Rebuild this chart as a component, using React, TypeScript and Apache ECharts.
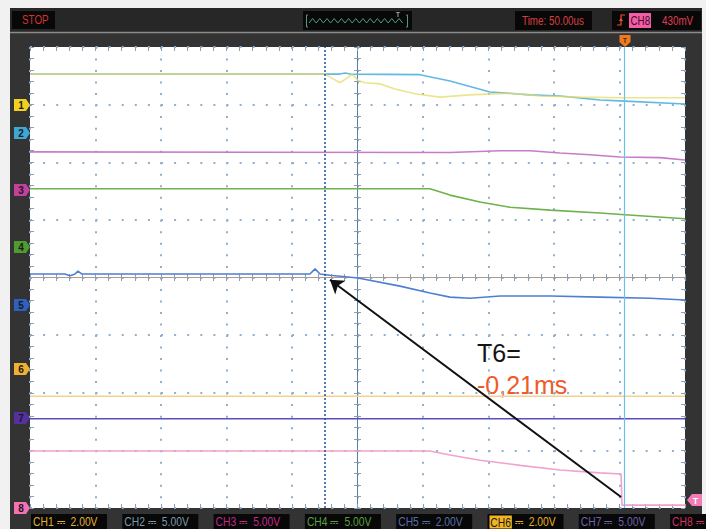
import React, { useEffect, useRef } from "react";
import * as echarts from "echarts";

// Horizontal: time in µs (50 µs / div), vertical: level in screen divisions
const timeMin = -250;
const timeMax = 250;
const timeStep = 50;
const levelMin = -4;
const levelMax = 4;

const ch1: [number, number][] = [
  [-250, 3.53], [-24.8, 3.53], [-19.5, 3.46], [-13.4, 3.38], [-8.0, 3.46], [-4.2, 3.53],
  [0.4, 3.42], [5.7, 3.38], [17.2, 3.36], [28.6, 3.27], [43.9, 3.19], [63.0, 3.13],
  [85.9, 3.17], [116.4, 3.2], [139.3, 3.15], [169.8, 3.13], [204.2, 3.12], [250, 3.12],
];
const ch2: [number, number][] = [
  [-250, 3.53], [-13.4, 3.53], [-9.5, 3.55], [-5.7, 3.53], [47.7, 3.52], [70.6, 3.41],
  [101.1, 3.22], [131.7, 3.17], [154.6, 3.15], [185.1, 3.08], [204.2, 3.06], [250, 3.01],
];
const ch3: [number, number][] = [
  [-250, 2.18], [70.6, 2.17], [108.8, 2.2], [131.7, 2.2], [154.6, 2.16], [177.5, 2.13],
  [200.4, 2.09], [230.9, 2.08], [250, 2.04],
];
const ch4: [number, number][] = [
  [-250, 1.54], [55.3, 1.54], [70.6, 1.43], [93.5, 1.31], [116.4, 1.22], [147.0, 1.17],
  [185.1, 1.12], [204.2, 1.09], [250, 1.02],
];
const ch5: [number, number][] = [
  [-250, 0.06], [-223.3, 0.06], [-219.5, 0.03], [-215.6, 0.06], [-213.4, 0.11], [-210.3, 0.06],
  [-36.3, 0.06], [-32.4, 0.15], [-28.6, 0.06], [-21.0, 0.04], [0.4, -0.01], [32.4, -0.15],
  [55.3, -0.27], [70.6, -0.34], [85.9, -0.36], [108.8, -0.32], [147.0, -0.32], [185.1, -0.34],
  [223.3, -0.36], [250, -0.39],
];
const ch6: [number, number][] = [[-250, -2.06], [250, -2.06]];
const ch7: [number, number][] = [[-250, -2.45], [250, -2.45]];
const ch8: [number, number][] = [
  [-250, -3.01], [55.3, -3.01], [70.6, -3.08], [93.5, -3.17], [124.1, -3.26], [154.6, -3.34],
  [185.1, -3.39], [201.2, -3.41], [201.9, -3.95], [250, -3.95],
];

const cursorTimes = [-25, 204];
const arrowFrom: [number, number] = [201.2, -3.81];
const arrowTo: [number, number] = [-21.0, -0.04];

const channelNames = ["CH1", "CH2", "CH3", "CH4", "CH5", "CH6", "CH7", "CH8"];
const channelScales = ["2.00V", "5.00V", "5.00V", "5.00V", "2.00V", "2.00V", "5.00V", ""];
const markerLabels = ["1", "2", "3", "4", "5", "6", "7", "8"];

const statusText = "STOP";
const timebaseText = "Time: 50.00us";
const triggerSource = "CH8";
const triggerLevel = "430mV";
const noteTitle = "T6=";
const noteValue = "-0,21ms";

const traceColors = ["#e6dc68", "#62b8e2", "#c77cc9", "#6db24e", "#4f7fd2", "#f6cf8e", "#5a4cc2", "#f2a2cc"];
const markerColors = ["#f2d020", "#3ea8d4", "#c2409e", "#4e9c2e", "#2f5fbf", "#f0b030", "#55309e", "#f272b4"];
const labelColors = ["#e0b030", "#7c98a8", "#c02a8a", "#58a040", "#5870a8", "#e8b020", "#7060a8", "#d03060"];

const UI_FONT = "'Liberation Sans', Arial, sans-serif";
const NARROW = 0.82;
const GRID = { left: 30, top: 47, width: 655, height: 461 };

function uiText(x: number, y: number, text: string, fill: string, size = 12) {
  return {
    type: "text", x, y, scaleX: NARROW,
    style: { text, fill, font: `${size}px ${UI_FONT}`, verticalAlign: "middle" },
  };
}

function buildGraphic() {
  const els: any[] = [];
  const dark = "#333333";
  // frame bands
  els.push({ type: "rect", shape: { x: 10, y: 8, width: 692, height: 39 }, style: { fill: dark } });
  els.push({ type: "rect", shape: { x: 10, y: 8, width: 692, height: 24 }, style: { fill: "#272727" } });
  els.push({ type: "line", shape: { x1: 10, y1: 32.5, x2: 702, y2: 32.5 }, style: { stroke: "#8c8c8c", lineWidth: 1.5 } });
  els.push({ type: "rect", shape: { x: 10, y: 47, width: 20, height: 482 }, style: { fill: dark } });
  els.push({ type: "rect", shape: { x: 685, y: 47, width: 17, height: 482 }, style: { fill: dark } });
  els.push({ type: "rect", shape: { x: 30, y: 508, width: 655, height: 21 }, style: { fill: dark } });

  // top bar boxes
  els.push({ type: "rect", shape: { x: 12, y: 11, width: 43, height: 18 }, style: { fill: "#080808" } });
  els.push(uiText(22, 20, statusText, "#d03434"));

  els.push({ type: "rect", shape: { x: 303, y: 11, width: 109, height: 19 }, style: { fill: "#080808" } });
  const zig: number[][] = [];
  for (let i = 0; i <= 26; i++) zig.push([309 + i * 3.6, i % 2 ? 18.5 : 23]);
  els.push({ type: "polyline", shape: { points: zig }, style: { stroke: "#4f9c80", lineWidth: 1, fill: null } });
  els.push({ type: "polyline", shape: { points: [[308, 15], [306.5, 15], [306.5, 27], [308, 27]] }, style: { stroke: "#4f9c80", lineWidth: 1, fill: null } });
  els.push({ type: "polyline", shape: { points: [[406, 15], [407.5, 15], [407.5, 27], [406, 27]] }, style: { stroke: "#4f9c80", lineWidth: 1, fill: null } });
  els.push({ type: "text", x: 398, y: 14, style: { text: "T", fill: "#d8d8d8", font: `7px ${UI_FONT}`, align: "center", verticalAlign: "middle" } });

  els.push({ type: "rect", shape: { x: 515, y: 11, width: 77, height: 19 }, style: { fill: "#080808" } });
  els.push(uiText(522, 20.5, timebaseText, "#d84040"));

  els.push({ type: "rect", shape: { x: 612, y: 11, width: 89, height: 19 }, style: { fill: "#080808" } });
  els.push({ type: "polyline", shape: { points: [[617, 25], [621, 25], [621, 15], [625, 15]] }, style: { stroke: "#e8502a", lineWidth: 1.2, fill: null } });
  els.push({ type: "polygon", shape: { points: [[618.8, 21], [623.2, 21], [621, 18]] }, style: { fill: "#e8502a" } });
  els.push({ type: "rect", shape: { x: 629, y: 13, width: 22, height: 15 }, style: { fill: "#f05ea8" } });
  els.push(uiText(630.5, 20.5, triggerSource, "#4a0628"));
  els.push(uiText(662, 20.5, triggerLevel, "#e03c54"));

  // top trigger-position marker
  els.push({ type: "polygon", shape: { points: [[619.5, 35], [630.5, 35], [630.5, 42], [625, 47], [619.5, 42]] }, style: { fill: "#f07a20" } });
  els.push({ type: "text", x: 625, y: 40, style: { text: "T", fill: "#5a2a00", font: `bold 7px ${UI_FONT}`, align: "center", verticalAlign: "middle" } });

  // left channel markers
  const markerY = [105, 133, 190, 247, 305, 369, 418, 508];
  markerLabels.forEach((lab, i) => {
    const y = markerY[i];
    els.push({ type: "polygon", shape: { points: [[14, y - 6], [26, y - 6], [30, y], [26, y + 6], [14, y + 6]] }, style: { fill: markerColors[i] } });
    els.push({ type: "text", x: 21, y: y + 0.5, style: { text: lab, fill: "#1a1a1a", font: `bold 10px ${UI_FONT}`, align: "center", verticalAlign: "middle" } });
  });

  // right trigger level marker
  els.push({ type: "polygon", shape: { points: [[702, 494], [692, 494], [687, 500], [692, 506], [702, 506]] }, style: { fill: "#f27ab6" } });
  els.push({ type: "text", x: 695.5, y: 500.5, style: { text: "T", fill: "#ffffff", font: `bold 9px ${UI_FONT}`, align: "center", verticalAlign: "middle" } });

  // bottom channel labels
  channelNames.forEach((name, i) => {
    const x = 31 + i * 91.3;
    const w = i === 7 ? 706 - x : 76;
    els.push({ type: "rect", shape: { x, y: 514, width: w, height: 15 }, style: { fill: "#080808" } });
    const scale = channelScales[i];
    const text = i === 5
      ? `{hl|${name}}{t| ⎓  ${scale}}`
      : `{t|${name}${scale ? " ⎓  " + scale : " ⎓"}}`;
    els.push({
      type: "text", x: x + 2, y: 522, scaleX: 0.86,
      style: {
        text,
        verticalAlign: "middle",
        rich: {
          t: { fill: labelColors[i], font: `12px ${UI_FONT}` },
          hl: { fill: "#1a1a1a", backgroundColor: "#f2b424", font: `12px ${UI_FONT}`, padding: [1, 1, 0, 1] },
        },
      },
    });
  });

  // annotation
  els.push({ type: "text", x: 477, y: 353, style: { text: noteTitle, fill: "#151515", font: "25px 'Liberation Sans', Arial, sans-serif", verticalAlign: "middle" } });
  els.push({ type: "text", x: 477, y: 385, style: { text: noteValue, fill: "#f05a2a", font: "25px 'Liberation Sans', Arial, sans-serif", verticalAlign: "middle" } });
  return els;
}

const tickColor = "#8aa0b8";
const minor = (len: number) => ({ show: true, splitNumber: 5, length: len, lineStyle: { color: tickColor, width: 1 } });

function xAxis(position: string, onZero: boolean, inside: boolean, len: number, extra: any = {}) {
  return {
    type: "value", min: timeMin, max: timeMax, interval: timeStep, position,
    axisLine: { show: true, onZero, onZeroAxisIndex: onZero ? 0 : undefined, lineStyle: { color: onZero ? "#b09a86" : "rgba(0,0,0,0)", width: 1 } },
    axisTick: { show: true, inside, length: len, lineStyle: { color: tickColor, width: 1 } },
    minorTick: minor(len),
    axisLabel: { show: false },
    splitLine: { show: false },
    ...extra,
  };
}
function yAxis(position: string, onZero: boolean, inside: boolean, len: number, extra: any = {}) {
  return {
    type: "value", min: levelMin, max: levelMax, interval: 1, position,
    axisLine: { show: true, onZero, onZeroAxisIndex: onZero ? 0 : undefined, lineStyle: { color: onZero ? "#5f7e9e" : "rgba(0,0,0,0)", width: 1 } },
    axisTick: { show: true, inside, length: len, lineStyle: { color: tickColor, width: 1 } },
    minorTick: minor(len),
    axisLabel: { show: false },
    splitLine: { show: false },
    ...extra,
  };
}

function trace(data: [number, number][], color: string, extra: any = {}) {
  return {
    type: "line", data, showSymbol: false, symbol: "none", silent: true,
    lineStyle: { color, width: 1.6 }, z: 3, ...extra,
  };
}

const option: any = {
  animation: false,
  backgroundColor: "#f1f1f1",
  grid: { ...GRID, show: true, backgroundColor: "#ffffff", borderWidth: 0 },
  xAxis: [
    xAxis("bottom", true, true, 3.5, { splitLine: { show: true, lineStyle: { color: "#8fb0d0", width: 2, type: [2, 9.52] } } }),
    xAxis("bottom", true, false, 3.5),
    xAxis("top", false, true, 4),
    xAxis("bottom", false, true, 4),
  ],
  yAxis: [
    yAxis("left", true, true, 3.5, { splitLine: { show: true, lineStyle: { color: "#8fb0d0", width: 2, type: [2, 11.1] } } }),
    yAxis("left", true, false, 3.5),
    yAxis("left", false, true, 4),
    yAxis("right", false, true, 4),
  ],
  graphic: buildGraphic(),
  series: [
    trace(ch6, traceColors[5], {
      markLine: {
        silent: true, symbol: ["none", "none"], label: { show: false },
        data: [
          { xAxis: cursorTimes[0], lineStyle: { color: "#1f4f99", width: 1.5, type: [2, 2] } },
          { xAxis: cursorTimes[1], lineStyle: { color: "#6cc0ee", width: 1.2, type: "solid" } },
        ],
      },
    }),
    trace(ch7, traceColors[6]),
    trace(ch8, traceColors[7]),
    trace(ch5, traceColors[4]),
    trace(ch4, traceColors[3]),
    trace(ch3, traceColors[2]),
    trace(ch2, traceColors[1]),
    trace(ch1, traceColors[0], {
      lineStyle: { color: traceColors[0], width: 1.6, opacity: 0.75 },
      markLine: {
        silent: true, symbol: ["none", "arrow"], symbolSize: 13, label: { show: false },
        lineStyle: { color: "#111111", width: 2, type: "solid", opacity: 1 },
        data: [[{ coord: arrowFrom }, { coord: arrowTo }]],
      },
    }),
  ],
};

export default function App() {
  const ref = useRef<HTMLDivElement>(null);
  useEffect(() => {
    const chart = echarts.init(ref.current!, undefined, { renderer: "svg", width: 706, height: 529 });
    chart.setOption(option);
    return () => chart.dispose();
  }, []);
  return <div ref={ref} style={{ position: "fixed", left: 0, top: 0, width: 706, height: 529 }} />;
}
